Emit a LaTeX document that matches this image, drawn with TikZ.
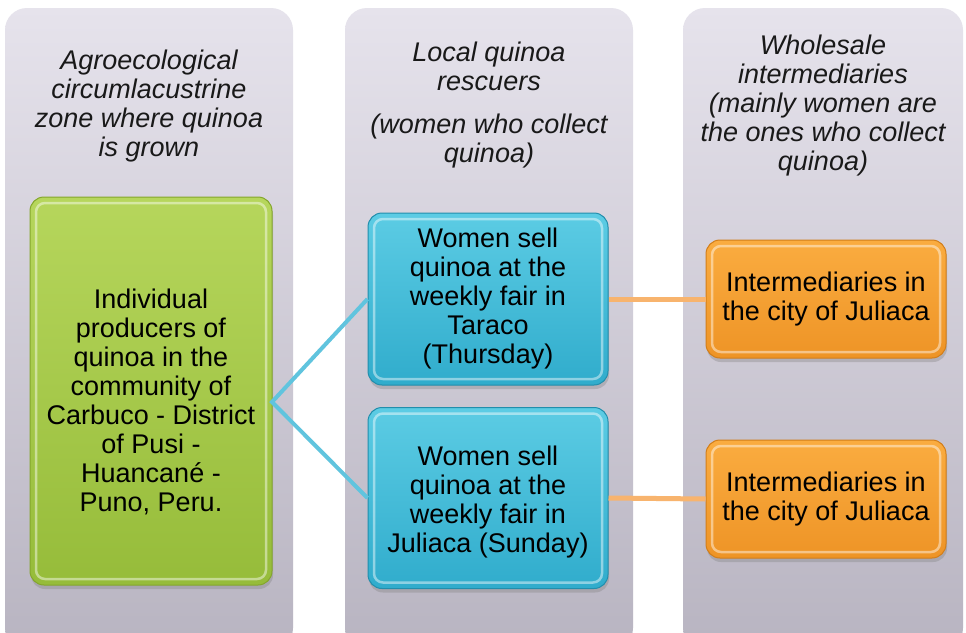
\documentclass[tikz,border=0pt]{standalone}
\usepackage{fontspec}
\setmainfont{Liberation Sans}
\usetikzlibrary{shadows}
\definecolor{colTop}{RGB}{230,227,236}
\definecolor{colBot}{RGB}{184,180,193}
\definecolor{grTop}{RGB}{182,214,92}
\definecolor{grBot}{RGB}{150,188,58}
\definecolor{grEdge}{RGB}{132,166,44}
\definecolor{blTop}{RGB}{92,204,228}
\definecolor{blBot}{RGB}{48,172,204}
\definecolor{blEdge}{RGB}{34,142,172}
\definecolor{orTop}{RGB}{250,172,64}
\definecolor{orBot}{RGB}{238,148,38}
\definecolor{orEdge}{RGB}{210,126,26}
\definecolor{blLine}{RGB}{96,196,222}
\definecolor{orLine}{RGB}{248,180,110}
\begin{document}
\begin{tikzpicture}[x=1pt,y=-1pt,
  colbox/.style={rounded corners=22pt, top color=colTop, bottom color=colBot, draw=none, inner sep=0pt},
  hdr/.style={font=\fontsize{27}{29}\selectfont\itshape, align=center, text=black!90},
  boxtext/.style={font=\fontsize{27}{29}\selectfont, align=center, inner sep=0pt},
  bevel/.style={rounded corners=14pt, line width=1pt, inner sep=0pt, align=center,
    font=\fontsize{27}{29}\selectfont,
    drop shadow={shadow xshift=1pt, shadow yshift=-4pt, opacity=0.35},
    path picture={\draw[white, opacity=0.45, line width=2.5pt, rounded corners=9pt]
      ([xshift=6pt,yshift=-6pt]path picture bounding box.north west) rectangle
      ([xshift=-6pt,yshift=6pt]path picture bounding box.south east);}},
  greenbox/.style={bevel, top color=grTop, bottom color=grBot, draw=grEdge},
  bluebox/.style={bevel, top color=blTop, bottom color=blBot, draw=blEdge},
  orangebox/.style={bevel, top color=orTop, bottom color=orBot, draw=orEdge},
  blconn/.style={draw=blLine, line width=4pt},
  orconn/.style={draw=orLine, line width=5pt}]
\clip (0,0) rectangle (966,632);
\fill[white] (0,0) rectangle (966,632);
% columns
\node[colbox, minimum width=288pt, minimum height=642pt] (c1) at (149,329) {};
\node[colbox, minimum width=288pt, minimum height=642pt] (c2) at (489,329) {};
\node[colbox, minimum width=280pt, minimum height=642pt] (c3) at (823,329) {};
% headers
\node[hdr] (h1) at (149,106) {Agroecological\\circumlacustrine\\zone where quinoa\\is grown};
\node[hdr] (h2) at (489,105) {Local quinoa\\rescuers\\[14pt](women who collect\\quinoa)};
\node[hdr] (h3) at (823,106) {Wholesale\\intermediaries\\(mainly women are\\the ones who collect\\quinoa)};
% boxes
\coordinate (gj) at (272,402);
\node[greenbox, minimum width=242pt, minimum height=388pt] (g) at (151,391) {};
\node[boxtext] (gt) at (151,402)
  {Individual\\producers of\\quinoa in the\\community of\\Carbuco - District\\of Pusi -\\Huancané -\\Puno, Peru.};
\node[bluebox, minimum width=240pt, minimum height=172pt] (b1) at (488,299)
  {Women sell\\quinoa at the\\weekly fair in\\Taraco\\(Thursday)};
\node[bluebox, minimum width=240pt, minimum height=181pt] (b2) at (488,498)
  {\rule{0pt}{27.5pt}Women sell\\quinoa at the\\weekly fair in\\Juliaca (Sunday)};
\node[orangebox, minimum width=240pt, minimum height=118pt] (o1) at (826,299)
  {Intermediaries in\\the city of Juliaca};
\node[orangebox, minimum width=240pt, minimum height=118pt] (o2) at (826,499)
  {Intermediaries in\\the city of Juliaca};
% connectors
\draw[blconn] (b1.west) -- (gj) -- (b2.west);
\draw[orconn] (b1.east) -- (o1.west);
\draw[orconn] (b2.east) -- (o2.west);
\end{tikzpicture}
\end{document}
